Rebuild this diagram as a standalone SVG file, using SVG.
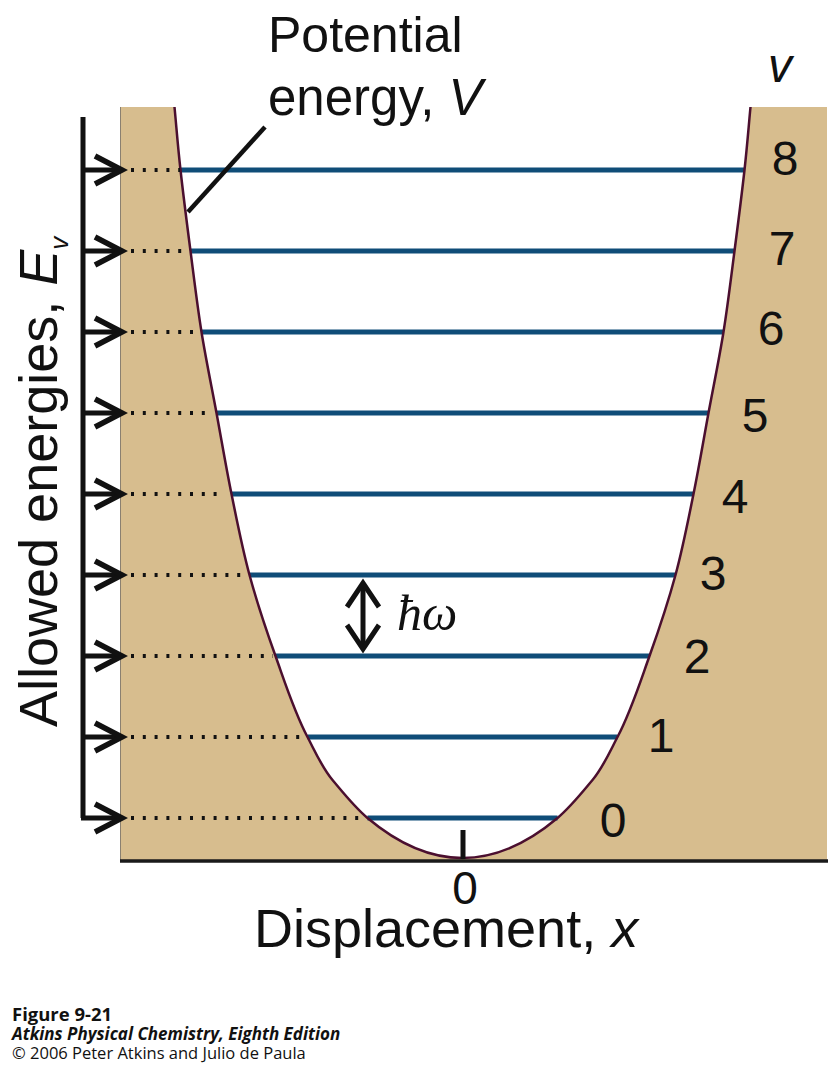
<svg xmlns="http://www.w3.org/2000/svg" width="839" height="1072" viewBox="0 0 839 1072">
<style>
.lbl{font-family:"Liberation Sans",Arial,sans-serif;fill:#111}
.num{font-family:"Liberation Sans",Arial,sans-serif;font-size:48px;fill:#111;text-anchor:middle}
.lvl{stroke:#0f4d78;stroke-width:5;fill:none}
.dot{stroke:#111;stroke-width:4;stroke-dasharray:3 8.8;fill:none}
.arr{stroke:#111;stroke-width:5;fill:none}
.cap{font-family:"Open Sans","Liberation Sans",sans-serif;fill:#111}
</style>
<defs>
<marker id="chev" markerUnits="userSpaceOnUse" viewBox="-40 -25 50 50" markerWidth="50" markerHeight="50" refX="0" refY="0" orient="auto" overflow="visible">
<path d="M-27,-14 L0,0 L-27,14" fill="none" stroke="#111" stroke-width="5.5"/>
</marker>
<marker id="chev2" markerUnits="userSpaceOnUse" viewBox="-40 -25 50 50" markerWidth="50" markerHeight="50" refX="0" refY="0" orient="auto-start-reverse" overflow="visible">
<path d="M-24,-16 L0,0 L-24,16" fill="none" stroke="#111" stroke-width="5"/>
</marker>
</defs>
<rect width="839" height="1072" fill="#fff"/>

<g id="well">
<path id="tan" fill="#d7bd8e" d="M120,107 L174.5,107 C176.5,128 177.83,146 180.5,170 C183.17,194 187,224 190.5,251 C194,278 197.17,305 201.5,332 C205.83,359 211.5,386 216.5,413 C221.5,440 226,467 231.5,494 C237,521 242.17,548 249.5,575 C256.83,602 265.83,629 275.5,656 C285.28,683.3 294,711.3 307.5,737 C315.23,751.69 321.82,767.29 332.5,780 C343.57,793.17 354.34,806.92 367.5,818 C399.17,844.67 430.83,858 462.5,858 C494.17,858 525.83,844.67 557.5,818 C570.66,806.92 581.43,793.17 592.5,780 C603.18,767.29 609.77,751.69 617.5,737 C631,711.3 639.72,683.3 649.5,656 C659.17,629 668.17,602 675.5,575 C682.83,548 688,521 693.5,494 C699,467 703.5,440 708.5,413 C713.5,386 719.17,359 723.5,332 C727.83,305 731,278 734.5,251 C738,224 741.83,194 744.5,170 C747.17,146 748.5,128 750.5,107 L827,107 L827,861 L120,861 Z"/>
<line x1="120.5" y1="107" x2="120.5" y2="861" stroke="#8a8070" stroke-width="1"/>
</g>

<g id="levels">
<line class="lvl" x1="180.5" y1="170" x2="744.5" y2="170"/>
<line class="lvl" x1="190.5" y1="251" x2="734.5" y2="251"/>
<line class="lvl" x1="201.5" y1="332" x2="723.5" y2="332"/>
<line class="lvl" x1="216.5" y1="413" x2="708.5" y2="413"/>
<line class="lvl" x1="231.5" y1="494" x2="693.5" y2="494"/>
<line class="lvl" x1="249.5" y1="575" x2="675.5" y2="575"/>
<line class="lvl" x1="275.5" y1="656" x2="649.5" y2="656"/>
<line class="lvl" x1="307.5" y1="737" x2="617.5" y2="737"/>
<line class="lvl" x1="367.5" y1="818" x2="557.5" y2="818"/>
</g>

<g id="curve">
<path fill="none" stroke="#4b0f2f" stroke-width="2.5" d="M174.5,107 C176.5,128 177.83,146 180.5,170 C183.17,194 187,224 190.5,251 C194,278 197.17,305 201.5,332 C205.83,359 211.5,386 216.5,413 C221.5,440 226,467 231.5,494 C237,521 242.17,548 249.5,575 C256.83,602 265.83,629 275.5,656 C285.28,683.3 294,711.3 307.5,737 C315.23,751.69 321.82,767.29 332.5,780 C343.57,793.17 354.34,806.92 367.5,818 C399.17,844.67 430.83,858 462.5,858 C494.17,858 525.83,844.67 557.5,818 C570.66,806.92 581.43,793.17 592.5,780 C603.18,767.29 609.77,751.69 617.5,737 C631,711.3 639.72,683.3 649.5,656 C659.17,629 668.17,602 675.5,575 C682.83,548 688,521 693.5,494 C699,467 703.5,440 708.5,413 C713.5,386 719.17,359 723.5,332 C727.83,305 731,278 734.5,251 C738,224 741.83,194 744.5,170 C747.17,146 748.5,128 750.5,107"/>
</g>

<g id="connectors">
<line class="dot" x1="131" y1="170" x2="180" y2="170"/>
<line class="dot" x1="131" y1="251" x2="189" y2="251"/>
<line class="dot" x1="131" y1="332" x2="200" y2="332"/>
<line class="dot" x1="131" y1="413" x2="212" y2="413"/>
<line class="dot" x1="131" y1="494" x2="220" y2="494"/>
<line class="dot" x1="131" y1="575" x2="248" y2="575"/>
<line class="dot" x1="131" y1="656" x2="273" y2="656"/>
<line class="dot" x1="131" y1="737" x2="305" y2="737"/>
<line class="dot" x1="131" y1="818" x2="365" y2="818"/>
<path class="arr" d="M83,117 L83,818"/>
<line class="arr" x1="83" y1="170" x2="122" y2="170" marker-end="url(#chev)"/>
<line class="arr" x1="83" y1="251" x2="122" y2="251" marker-end="url(#chev)"/>
<line class="arr" x1="83" y1="332" x2="122" y2="332" marker-end="url(#chev)"/>
<line class="arr" x1="83" y1="413" x2="122" y2="413" marker-end="url(#chev)"/>
<line class="arr" x1="83" y1="494" x2="122" y2="494" marker-end="url(#chev)"/>
<line class="arr" x1="83" y1="575" x2="122" y2="575" marker-end="url(#chev)"/>
<line class="arr" x1="83" y1="656" x2="122" y2="656" marker-end="url(#chev)"/>
<line class="arr" x1="83" y1="737" x2="122" y2="737" marker-end="url(#chev)"/>
<line class="arr" x1="81" y1="818" x2="122" y2="818" marker-end="url(#chev)"/>
<line class="arr" x1="363" y1="583" x2="363" y2="649" marker-start="url(#chev2)" marker-end="url(#chev2)"/>
<line x1="188" y1="212" x2="265" y2="127" stroke="#111" stroke-width="4.5"/>
<line x1="120" y1="861" x2="828" y2="861" stroke="#1a1a1a" stroke-width="3.5"/>
<line x1="463" y1="830" x2="463" y2="859" stroke="#111" stroke-width="5"/>
</g>

<g id="labels">
<text class="lbl" x="268" y="52" font-size="50">Potential</text>
<text class="lbl" x="268" y="115" font-size="51">energy, <tspan font-style="italic">V</tspan></text>
<text class="lbl" x="768" y="82" font-size="48" font-style="italic">v</text>
<text class="lbl" x="465" y="904" font-size="46" text-anchor="middle">0</text>
<text class="lbl" x="254" y="947" font-size="54">Displacement, <tspan font-style="italic">x</tspan></text>
<text class="lbl" transform="translate(57,727) rotate(-90)" font-size="54">Allowed energies, <tspan font-style="italic">E</tspan><tspan font-style="italic" font-size="26" dy="11">v</tspan></text>
<text x="397" y="630" font-family="'Liberation Serif','DejaVu Serif',serif" font-style="italic" font-size="50" fill="#111">ħω</text>
</g>

<g id="numbers">
<text class="num" x="785" y="175">8</text>
<text class="num" x="782" y="265">7</text>
<text class="num" x="771" y="345">6</text>
<text class="num" x="755" y="432">5</text>
<text class="num" x="735" y="513">4</text>
<text class="num" x="713" y="590">3</text>
<text class="num" x="697" y="673">2</text>
<text class="num" x="661" y="752">1</text>
<text class="num" x="613" y="837">0</text>
</g>

<g id="caption">
<text class="cap" x="12" y="1021" font-size="18" font-weight="bold" textLength="100" lengthAdjust="spacingAndGlyphs">Figure 9-21</text>
<text class="cap" x="12" y="1040" font-size="17" font-weight="bold" font-style="italic">Atkins Physical Chemistry, Eighth Edition</text>
<text class="cap" x="12" y="1059" font-size="16.5">© 2006 Peter Atkins and Julio de Paula</text>
</g>
</svg>
